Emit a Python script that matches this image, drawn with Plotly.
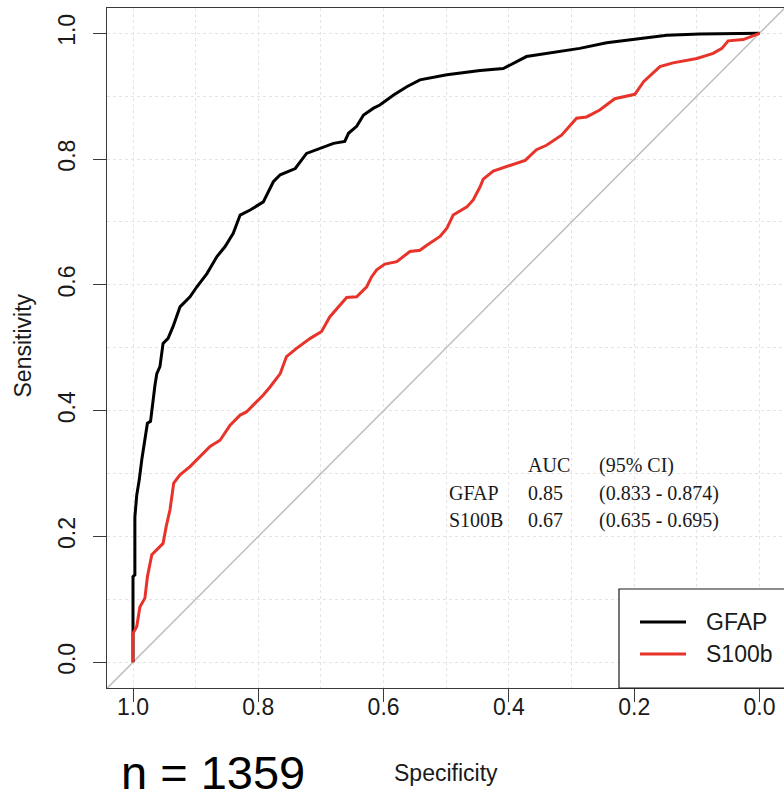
import plotly.graph_objects as go

# ---- data ----
spec_gfap = [1.0, 1.0, 1.0, 0.997, 0.997, 0.994, 0.990, 0.986, 0.981, 0.977, 0.972, 0.969, 0.965,
             0.962, 0.957, 0.952, 0.944, 0.936, 0.925, 0.909, 0.898, 0.882, 0.866, 0.853, 0.840,
             0.829, 0.813, 0.792, 0.776, 0.765, 0.741, 0.723, 0.702, 0.680, 0.662, 0.656, 0.643,
             0.632, 0.616, 0.606, 0.584, 0.563, 0.542, 0.499, 0.446, 0.409, 0.372, 0.340, 0.287,
             0.244, 0.201, 0.148, 0.095, 0.0]
sens_gfap = [0.0, 0.046, 0.136, 0.139, 0.231, 0.266, 0.290, 0.322, 0.353, 0.380, 0.383, 0.412, 0.440,
             0.459, 0.470, 0.507, 0.515, 0.534, 0.565, 0.581, 0.597, 0.618, 0.645, 0.661, 0.682,
             0.711, 0.719, 0.732, 0.764, 0.775, 0.785, 0.809, 0.817, 0.825, 0.828, 0.841, 0.852,
             0.870, 0.881, 0.886, 0.902, 0.915, 0.926, 0.934, 0.941, 0.944, 0.963, 0.968, 0.976,
             0.985, 0.990, 0.997, 0.999, 1.0]

spec_s100b = [1.0, 1.0, 0.994, 0.989, 0.981, 0.977, 0.970, 0.962, 0.952, 0.947, 0.941, 0.935, 0.925,
              0.909, 0.888, 0.877, 0.861, 0.845, 0.829, 0.819, 0.805, 0.792, 0.781, 0.770, 0.765,
              0.755, 0.739, 0.717, 0.699, 0.686, 0.659, 0.643, 0.627, 0.619, 0.611, 0.598, 0.579,
              0.558, 0.542, 0.531, 0.510, 0.499, 0.489, 0.467, 0.457, 0.446, 0.441, 0.425, 0.393,
              0.374, 0.356, 0.340, 0.316, 0.292, 0.276, 0.255, 0.231, 0.199, 0.185, 0.159, 0.138,
              0.100, 0.074, 0.060, 0.050, 0.026, 0.0]
sens_s100b = [0.0, 0.046, 0.057, 0.088, 0.102, 0.136, 0.171, 0.179, 0.189, 0.216, 0.242, 0.285, 0.298,
              0.311, 0.332, 0.343, 0.353, 0.377, 0.393, 0.398, 0.412, 0.425, 0.438, 0.452, 0.459,
              0.486, 0.499, 0.515, 0.526, 0.549, 0.580, 0.581, 0.597, 0.613, 0.624, 0.633, 0.637,
              0.653, 0.655, 0.663, 0.677, 0.690, 0.711, 0.724, 0.735, 0.756, 0.768, 0.781, 0.791,
              0.798, 0.815, 0.822, 0.838, 0.865, 0.867, 0.878, 0.896, 0.903, 0.923, 0.947, 0.953,
              0.960, 0.968, 0.976, 0.988, 0.990, 1.0]

series_names = ["GFAP", "S100b"]
series_colors = ["#000000", "#e8332b"]

tick_vals = [0.0, 0.2, 0.4, 0.6, 0.8, 1.0]
tick_text = ["0.0", "0.2", "0.4", "0.6", "0.8", "1.0"]

table_rows = [["", "AUC", "(95% CI)"],
              ["GFAP", "0.85", "(0.833 - 0.874)"],
              ["S100B", "0.67", "(0.635 - 0.695)"]]

sample_label = "n = 1359"

# ---- layout geometry ----
W, H = 784, 804
ML, MR, MT, MB = 107, 0, 8, 116
PW, PH = W - ML - MR, H - MT - MB


def px(x):
    return (x - ML) / PW


def py(y):
    return (H - MB - y) / PH


SANS = "Liberation Sans, Arial, Helvetica, sans-serif"
SERIF = "Liberation Serif, Times New Roman, serif"

fig = go.Figure()

# chance diagonal
fig.add_trace(go.Scatter(x=[1.1, -0.1], y=[-0.1, 1.1], mode="lines",
                         line=dict(color="#bdbdbd", width=1.5), hoverinfo="skip",
                         showlegend=False))

for sx, sy, name, col in [(spec_gfap, sens_gfap, series_names[0], series_colors[0]),
                          (spec_s100b, sens_s100b, series_names[1], series_colors[1])]:
    fig.add_trace(go.Scatter(x=sx, y=sy, mode="lines", name=name,
                             line=dict(color=col, width=3), showlegend=False))

axis_common = dict(
    showline=True, linecolor="#3a3a3a", linewidth=1.2,
    ticks="outside", ticklen=13, tickwidth=1.2, tickcolor="#3a3a3a",
    tickvals=tick_vals, ticktext=tick_text,
    tickfont=dict(family=SANS, size=23, color="#1a1a1a"),
    showgrid=True, gridcolor="#e4e4e4", griddash="dot", gridwidth=1,
    zeroline=False,
    minor=dict(dtick=0.1, tick0=0, showgrid=True, gridcolor="#e4e4e4",
               griddash="dot", gridwidth=1, ticks=""),
)

fig.update_xaxes(range=[1.0415, -0.0391], mirror=True, ticklabelstandoff=-15, **axis_common)
fig.update_yaxes(range=[-0.0409, 1.0402], mirror=False, tickangle=-90, ticklabelstandoff=9,
                 **axis_common)

annotations = []
# axis titles
annotations.append(dict(text="Specificity", x=px(445.5), y=py(773), xref="paper", yref="paper",
                        xanchor="center", yanchor="middle", showarrow=False,
                        font=dict(family=SANS, size=23, color="#1a1a1a")))
annotations.append(dict(text="Sensitivity", x=px(22.5), y=py(346), xref="paper", yref="paper",
                        xanchor="center", yanchor="middle", showarrow=False, textangle=-90,
                        font=dict(family=SANS, size=23, color="#1a1a1a")))
# sample size
annotations.append(dict(text=sample_label, x=px(119), y=py(772), xref="paper", yref="paper",
                        xanchor="left", yanchor="middle", showarrow=False,
                        font=dict(family=SANS, size=47, color="#000000")))
# AUC table
col_x = [447, 526, 597]
row_y = [465, 493, 520]
for r, row in enumerate(table_rows):
    for c, cell in enumerate(row):
        if cell:
            annotations.append(dict(text=cell, x=px(col_x[c]), y=py(row_y[r]), xref="paper",
                                    yref="paper", xanchor="left", yanchor="middle",
                                    showarrow=False,
                                    font=dict(family=SERIF, size=20, color="#1a1a1a")))
# legend labels
leg_y = [622, 654]
for name, ly in zip(series_names, leg_y):
    annotations.append(dict(text=name, x=px(704), y=py(ly), xref="paper", yref="paper",
                            xanchor="left", yanchor="middle", showarrow=False,
                            font=dict(family=SANS, size=23, color="#1a1a1a")))

shapes = [dict(type="rect", xref="paper", yref="paper", x0=px(619), x1=px(820),
               y0=py(688), y1=py(589), line=dict(color="#1a1a1a", width=1.2),
               fillcolor="white", layer="above")]
for col, ly in zip(series_colors, leg_y):
    shapes.append(dict(type="line", xref="paper", yref="paper", x0=px(640), x1=px(686),
                       y0=py(ly), y1=py(ly), line=dict(color=col, width=3), layer="above"))

fig.update_layout(width=W, height=H, margin=dict(l=ML, r=MR, t=MT, b=MB, autoexpand=False),
                  plot_bgcolor="white", paper_bgcolor="white",
                  annotations=annotations, shapes=shapes, showlegend=False)

fig.write_html("out.html")
